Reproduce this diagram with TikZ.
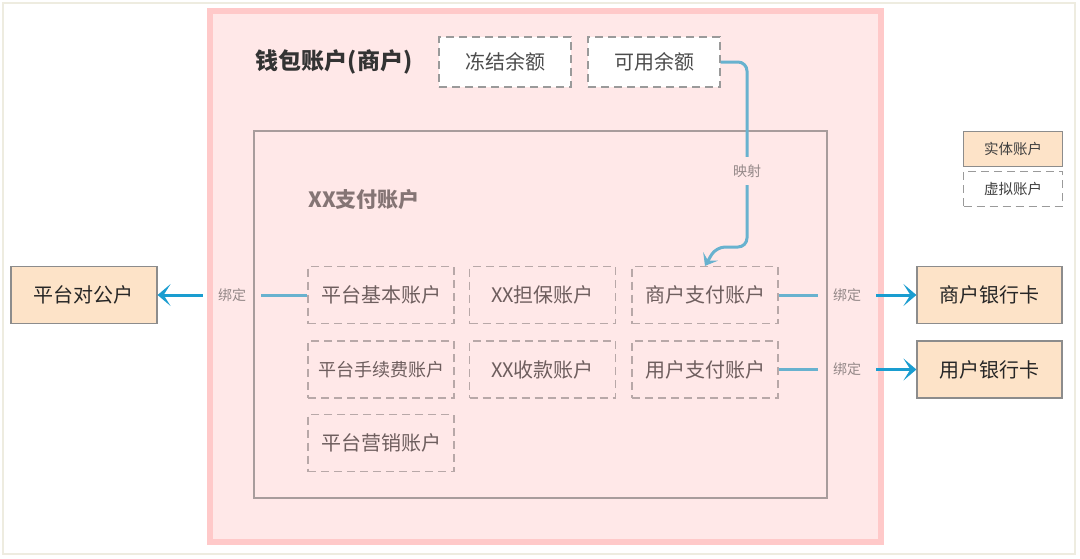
\documentclass[tikz,border=0pt]{standalone}
\usepackage{fontspec}
\setmainfont{Noto Sans CJK SC}
\usetikzlibrary{arrows.meta,calc}
\definecolor{framec}{HTML}{EEECE0}
\definecolor{pinkfill}{HTML}{FFE8E8}
\definecolor{pinkline}{HTML}{FFC9C9}
\definecolor{peach}{HTML}{FDE3C8}
\definecolor{solidline}{HTML}{8C8C8C}
\definecolor{vline}{HTML}{9A9A9A}
\definecolor{innerline}{HTML}{A89C9C}
\definecolor{idash}{HTML}{B8A8A8}
\definecolor{itext}{HTML}{6E5E5E}
\definecolor{ititle}{HTML}{857575}
\definecolor{lbl}{HTML}{948888}
\definecolor{lightblue}{HTML}{68B2CF}
\definecolor{darkblue}{HTML}{1A9DD0}
\tikzset{
  realbox/.style={draw=solidline, fill=peach, line width=1.2pt, minimum width=146pt, minimum height=57pt, inner sep=0pt, text=black!85, font=\fontsize{20}{20}\selectfont},
  whitebox/.style={draw=vline, fill=white, line width=1.2pt, dash pattern=on 8pt off 5pt, minimum width=132pt, minimum height=50pt, inner sep=0pt, text=black!70, font=\fontsize{20}{20}\selectfont},
  acctbox/.style={draw=idash, line width=1.2pt, dash pattern=on 8pt off 5pt, minimum width=146pt, minimum height=57pt, inner sep=0pt, text=itext, font=\fontsize{20}{20}\selectfont},
  bindlbl/.style={inner xsep=15pt, inner ysep=4pt, text=lbl, font=\fontsize{14}{14}\selectfont},
  legreal/.style={draw=solidline, fill=peach, line width=1pt, minimum width=99pt, minimum height=35pt, inner sep=0pt, text=black!75, font=\fontsize{14.5}{14.5}\selectfont},
  legvirt/.style={draw=vline, fill=white, line width=1pt, dash pattern=on 8pt off 5pt, minimum width=99pt, minimum height=35pt, inner sep=0pt, text=black!75, font=\fontsize{14.5}{14.5}\selectfont},
  bline/.style={draw=lightblue, line width=3pt},
  barrow/.style={draw=darkblue, line width=3pt, -{Stealth[length=13pt,width=22pt,inset=7pt]}},
}
\begin{document}
\begin{tikzpicture}[x=1pt,y=-1pt]
\useasboundingbox (0,0) rectangle (1080,558);
\fill[white] (0,0) rectangle (1080,558);
\draw[framec, line width=1.5pt] (3,3) rectangle (1075,554);
% wallet
\draw[draw=pinkline, fill=pinkfill, line width=6.5pt] (210,11) rectangle (881,542);
\node[font=\bfseries\fontsize{23}{23}\selectfont, text=black!80, inner sep=0pt] (wtitle) at (334,62) {钱包账户(商户)};
\node[whitebox] (frozen) at (505,62) {冻结余额};
\node[whitebox] (avail) at (654,62) {可用余额};
% payment account
\draw[draw=innerline, line width=1.3pt] (254,131) rectangle (827,498);
\node[font=\bfseries\fontsize{21}{21}\selectfont, text=ititle, inner sep=0pt] (xxtitle) at (364,200) {XX支付账户};
\node[acctbox] (b1) at (381,295) {平台基本账户};
\node[acctbox] (b2) at (542.5,295) {XX担保账户};
\node[acctbox] (b3) at (705,295) {商户支付账户};
\node[acctbox, font=\fontsize{18}{18}\selectfont] (b4) at (381,369.5) {平台手续费账户};
\node[acctbox] (b5) at (542.5,369.5) {XX收款账户};
\node[acctbox] (b6) at (705,369.5) {用户支付账户};
\node[acctbox] (b7) at (381,443) {平台营销账户};
% outside
\node[realbox] (pub) at (84,295) {平台对公户};
\node[realbox, minimum width=145pt] (mbank) at (989.5,295) {商户银行卡};
\node[realbox, minimum width=145pt] (ubank) at (989.5,369.5) {用户银行卡};
% legend
\node[legreal] (lreal) at (1013,148.5) {实体账户};
\node[legvirt] (lvirt) at (1013,188.5) {虚拟账户};
% bindings
\node[bindlbl] (bl1) at (232,295) {绑定};
\node[bindlbl] (bl2) at (847,295) {绑定};
\node[bindlbl] (bl3) at (847,369.5) {绑定};
\draw[bline] (b1.west) -- (bl1.east);
\draw[barrow] (bl1.west) -- (pub.east);
\draw[bline] (b3.east) -- (bl2.west);
\draw[barrow] (bl2.east) -- (mbank.west);
\draw[bline] (b6.east) -- (bl3.west);
\draw[barrow] (bl3.east) -- (ubank.west);
% mapping
\coordinate (m1) at (747,247);
\coordinate (m2) at (716,247);
\draw[draw=lightblue, line width=3pt, rounded corners=9pt, -{Stealth[length=11pt,width=17pt,inset=5pt]}] (avail.east) -| (m1) -- (m2) -- (b3.north);
\node[fill=pinkfill, inner xsep=2pt, inner ysep=8pt, text=lbl, font=\fontsize{14}{14}\selectfont] (map) at (747,171) {映射};
\end{tikzpicture}
\end{document}
